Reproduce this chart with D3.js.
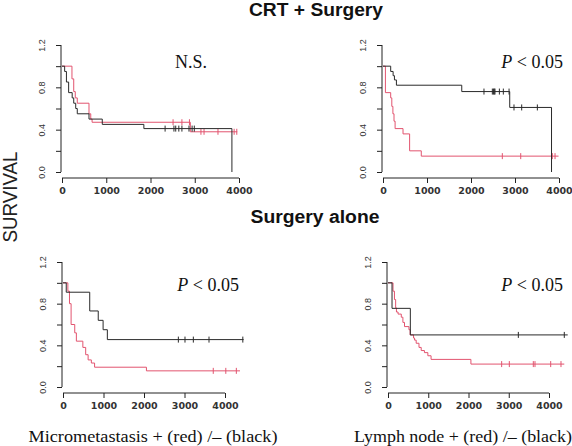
<!DOCTYPE html>
<html><head><meta charset="utf-8">
<script src="https://cdn.jsdelivr.net/npm/d3@7"></script>
<style>html,body{margin:0;padding:0;background:#fff;}svg{display:block;}</style>
</head><body>
<script>
// ---- data ----
const xTicks = [0, 1000, 2000, 3000, 4000];
const yTicks = [0, 0.2, 0.4, 0.6, 0.8, 1.0, 1.2];
const yLabels = ["0.0", "", "0.4", "", "0.8", "", "1.2"];
const groupTitles = ["CRT + Surgery", "Surgery alone"];
const captions = ["Micrometastasis + (red) /\u2013 (black)", "Lymph node + (red) /\u2013 (black)"];
const pTexts = ["N.S.", "P < 0.05", "P < 0.05", "P < 0.05"];

// Panel 1: CRT + Surgery, micrometastasis
const p1BlackT = [0, 60, 100, 150, 230, 265, 310, 345, 610, 910, 1850, 3840];
const p1BlackS = [1.0, 0.95, 0.85, 0.75, 0.70, 0.65, 0.60, 0.55, 0.50, 0.45, 0.41, 0.0];
const p1BlackC = [2330, 2530, 2570, 2640, 2710, 2870, 2940, 2990];
const p1RedT = [0, 225, 265, 300, 345, 610, 650, 680, 2900, 3960];
const p1RedS = [1.0, 0.88, 0.76, 0.70, 0.65, 0.55, 0.50, 0.47, 0.38, 0.38];
const p1RedC = [2510, 2710, 2880, 3140, 3210, 3525, 3890, 3950];

// Panel 2: CRT + Surgery, lymph node
const p2BlackT = [0, 175, 230, 260, 305, 1790, 2880, 3830];
const p2BlackS = [1.0, 0.95, 0.91, 0.87, 0.82, 0.76, 0.61, 0.0];
const p2BlackC = [2295, 2485, 2510, 2530, 2545, 2645, 2735, 2865, 2977, 3152, 3508];
const p2RedT = [0, 55, 175, 200, 225, 250, 275, 455, 605, 870, 3990];
const p2RedS = [1.0, 0.75, 0.70, 0.62, 0.55, 0.48, 0.41, 0.36, 0.20, 0.15, 0.15];
const p2RedC = [2712, 3130, 3848, 3910];

// Panel 3: Surgery alone, micrometastasis
const p3BlackT = [0, 80, 660, 870, 990, 1095, 4460];
const p3BlackS = [1.0, 0.91, 0.73, 0.64, 0.55, 0.455, 0.455];
const p3BlackC = [2848, 3012, 3218, 3605, 4440];
const p3RedT = [0, 120, 160, 200, 290, 330, 490, 560, 620, 700, 780, 2060, 4370];
const p3RedS = [1.0, 0.92, 0.80, 0.60, 0.52, 0.44, 0.38, 0.31, 0.26, 0.23, 0.19, 0.155, 0.155];
const p3RedC = [3710, 4020, 4280];

// Panel 4: Surgery alone, lymph node
const p4BlackT = [0, 100, 555, 4465];
const p4BlackS = [1.0, 0.755, 0.50, 0.50];
const p4BlackC = [3238, 4380];
const p4RedT = [0, 125, 160, 190, 210, 250, 330, 370, 410, 520, 550, 635, 660, 700, 770, 825, 905, 990, 1070, 2060, 4380];
const p4RedS = [1.0, 0.92, 0.84, 0.76, 0.72, 0.70, 0.67, 0.62, 0.58, 0.55, 0.50, 0.47, 0.45, 0.42, 0.38, 0.35, 0.33, 0.30, 0.265, 0.22, 0.22];
const p4RedC = [2824, 3014, 3610, 3652, 4042, 4298];

// ---- layout ----
const W = 572, H = 446;
const RED = "#e2546f", BLACK = "#2a2a2a";
const SERIF = "'Liberation Serif', 'Times New Roman', serif";
const panels = [
  {x0: 62, x1: 239, y0: 172, y1: 45, p: pTexts[0], px: 191, py: 68, anchor: "middle",
   bT: p1BlackT, bS: p1BlackS, bC: p1BlackC, rT: p1RedT, rS: p1RedS, rC: p1RedC},
  {x0: 383, x1: 559, y0: 172, y1: 45, p: pTexts[1], px: 563, py: 68, anchor: "end",
   bT: p2BlackT, bS: p2BlackS, bC: p2BlackC, rT: p2RedT, rS: p2RedS, rC: p2RedC},
  {x0: 63, x1: 225, y0: 387, y1: 262, p: pTexts[2], px: 239, py: 291, anchor: "end",
   bT: p3BlackT, bS: p3BlackS, bC: p3BlackC, rT: p3RedT, rS: p3RedS, rC: p3RedC},
  {x0: 388, x1: 549, y0: 387, y1: 262, p: pTexts[3], px: 563, py: 291, anchor: "end",
   bT: p4BlackT, bS: p4BlackS, bC: p4BlackC, rT: p4RedT, rS: p4RedS, rC: p4RedC}
];

const svg = d3.select("body").append("svg").attr("width", W).attr("height", H)
  .style("font-family", "'Liberation Sans', Arial, sans-serif");

// titles
svg.append("text").attr("x", 316).attr("y", 16).attr("text-anchor", "middle")
  .attr("font-size", 18).attr("font-weight", "bold").attr("fill", "#111")
  .attr("textLength", 134).attr("lengthAdjust", "spacingAndGlyphs").text(groupTitles[0]);
svg.append("text").attr("x", 315).attr("y", 223).attr("text-anchor", "middle")
  .attr("font-size", 18).attr("font-weight", "bold").attr("fill", "#111")
  .attr("textLength", 129).attr("lengthAdjust", "spacingAndGlyphs").text(groupTitles[1]);
svg.append("text").attr("transform", "translate(17,197) rotate(-90)").attr("text-anchor", "middle")
  .attr("font-size", 20).attr("fill", "#222")
  .attr("textLength", 91).attr("lengthAdjust", "spacingAndGlyphs").text("SURVIVAL");

// captions
svg.append("text").attr("x", 153).attr("y", 442).attr("text-anchor", "middle")
  .attr("font-family", SERIF).attr("font-size", 17.5).attr("fill", "#111")
  .attr("textLength", 249).attr("lengthAdjust", "spacingAndGlyphs").text(captions[0]);
svg.append("text").attr("x", 463).attr("y", 442).attr("text-anchor", "middle")
  .attr("font-family", SERIF).attr("font-size", 17.5).attr("fill", "#111")
  .attr("textLength", 218).attr("lengthAdjust", "spacingAndGlyphs").text(captions[1]);

panels.forEach(pn => {
  const x = d3.scaleLinear().domain([0, 4000]).range([pn.x0, pn.x1]);
  const y = d3.scaleLinear().domain([0, 1.2]).range([pn.y0, pn.y1]);
  const g = svg.append("g");

  // y axis
  const yAx = g.append("g").attr("transform", `translate(${pn.x0 - 1},0)`)
    .call(d3.axisLeft(y).tickValues(yTicks).tickSize(5).tickFormat((d, i) => yLabels[i]));
  yAx.select(".domain").attr("d", `M0,${y(0)}V${y(1.2)}`).attr("stroke", "#222");
  yAx.selectAll(".tick line").attr("stroke", "#222");
  yAx.selectAll(".tick text").attr("font-size", 9).attr("fill", "#333")
    .attr("font-family", "'Liberation Sans', Arial, sans-serif")
    .attr("transform", "rotate(-90)").attr("x", 0).attr("y", -19).attr("dy", "0.35em")
    .attr("text-anchor", "middle");

  // x axis
  const xAx = g.append("g").attr("transform", `translate(0,${pn.y0 + 6})`)
    .call(d3.axisBottom(x).tickValues(xTicks).tickSize(5).tickFormat(d3.format("d")));
  xAx.select(".domain").attr("d", `M${x(0)},0H${x(4000)}`).attr("stroke", "#222");
  xAx.selectAll(".tick line").attr("stroke", "#222");
  xAx.selectAll(".tick text").attr("font-size", 9.5).attr("font-weight", "bold").attr("fill", "#333")
    .attr("font-family", "'DejaVu Sans', sans-serif").attr("y", 9);

  const line = d3.line().x(d => x(d[0])).y(d => y(d[1])).curve(d3.curveStepAfter);
  const drawCurve = (T, S, C, col) => {
    const pts = T.map((t, i) => [t, S[i]]);
    g.append("path").attr("d", line(pts)).attr("fill", "none").attr("stroke", col).attr("stroke-width", 1);
    const lvl = t => { let s = S[0]; T.forEach((tt, i) => { if (tt <= t) s = S[i]; }); return s; };
    g.selectAll(null).data(C).enter().append("line")
      .attr("x1", d => x(d)).attr("x2", d => x(d))
      .attr("y1", d => y(lvl(d)) - 3).attr("y2", d => y(lvl(d)) + 3)
      .attr("stroke", col).attr("stroke-width", 1);
  };
  drawCurve(pn.rT, pn.rS, pn.rC, RED);
  drawCurve(pn.bT, pn.bS, pn.bC, BLACK);

  // p text
  const pt = g.append("text").attr("x", pn.px).attr("y", pn.py).attr("text-anchor", pn.anchor)
    .attr("font-family", SERIF).attr("font-size", 18).attr("fill", "#111");
  if (pn.p.startsWith("P")) {
    pt.append("tspan").attr("font-style", "italic").text("P");
    pt.append("tspan").text(pn.p.slice(1));
  } else pt.text(pn.p);
});
</script>
</body></html>
